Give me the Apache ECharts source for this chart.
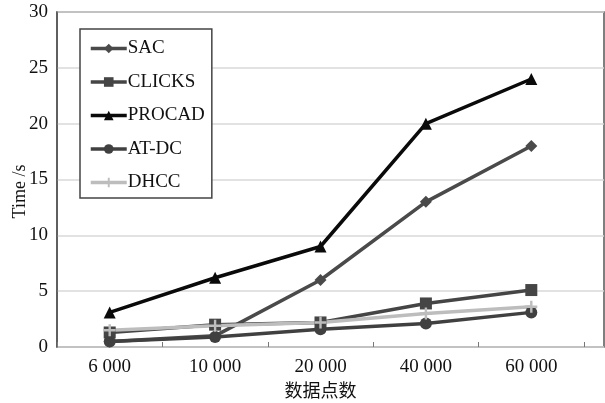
<!DOCTYPE html>
<html><head><meta charset="utf-8">
<script src="https://cdn.jsdelivr.net/npm/echarts@6/dist/echarts.min.js"></script>
<style>html,body{margin:0;padding:0;background:#fff}#c{width:605px;height:403px}</style>
</head><body><div id="c"></div>
<script>
const categories = ['6 000', '10 000', '20 000', '40 000', '60 000'];
const yTicks = [0, 5, 10, 15, 20, 25, 30];
const sac = [0.5, 1.0, 6.0, 13.0, 18.0];
const clicks = [1.3, 2.0, 2.2, 3.9, 5.1];
const procad = [3.1, 6.2, 9.0, 20.0, 24.0];
const atdc = [0.5, 0.9, 1.6, 2.1, 3.1];
const dhcc = [1.5, 1.9, 2.2, 3.0, 3.6];

const serif = 'Liberation Serif';
const chart = echarts.init(document.getElementById('c'));
function ser(name, data, color, symbol, size) {
  return {name, type: 'line', data, xAxisIndex: 1, yAxisIndex: 1,
    symbol, symbolSize: size, showAllSymbol: true,
    lineStyle: {color, width: 3.5}, itemStyle: {color}, z: 5};
}
chart.setOption({
  animation: false,
  grid: [
    {left: 57, right: 1, top: 12, bottom: 56, show: true, borderColor: '#555', borderWidth: 1.5,
      containLabel: false, outerBoundsMode: 'none'},
    {left: 57, right: 21, top: 12, bottom: 56, containLabel: false, outerBoundsMode: 'none'}
  ],
  xAxis: [
    {gridIndex: 0, type: 'value', min: 0, max: 1, show: false},
    {gridIndex: 1, type: 'category', data: categories, boundaryGap: true,
      axisLine: {show: false},
      axisTick: {show: true, inside: true, length: 5, lineStyle: {color: '#777'}},
      axisLabel: {fontFamily: serif, fontSize: 19, color: '#111', margin: 11},
      name: '数据点数', nameLocation: 'middle', nameGap: 34, nameMoveOverlap: false,
      nameTextStyle: {fontFamily: 'Noto Sans CJK SC', fontSize: 18, color: '#111'}}
  ],
  yAxis: [
    {gridIndex: 0, type: 'value', min: 0, max: 30, interval: 5,
      axisLine: {show: true, lineStyle: {color: '#555', width: 1.5}},
      axisTick: {show: false},
      splitLine: {show: true, lineStyle: {color: '#d8d8d8', width: 1.5}},
      axisLabel: {fontFamily: serif, fontSize: 19, color: '#111', margin: 9},
      name: 'Time /s', nameLocation: 'middle', nameGap: 28, nameRotate: 90, nameMoveOverlap: false,
      nameTextStyle: {fontFamily: serif, fontSize: 18, color: '#111', padding: [0, 0, 0, -24]}},
    {gridIndex: 1, type: 'value', min: 0, max: 30, interval: 5, show: false}
  ],
  legend: {
    left: 80, top: 29, orient: 'vertical', itemGap: 14.5,
    itemWidth: 36, itemHeight: 12,
    backgroundColor: '#fff', borderColor: '#444', borderWidth: 1.5,
    padding: [10, 7, 6, 9],
    lineStyle: {width: 3.5},
    textStyle: {fontFamily: serif, fontSize: 19, color: '#111', padding: [0, 0, 0, -4]},
    data: ['SAC', 'CLICKS', 'PROCAD', 'AT-DC', 'DHCC']
  },
  series: [
    ser('SAC', sac, '#4a4a4a', 'diamond', 12),
    ser('CLICKS', clicks, '#454545', 'rect', 12),
    ser('PROCAD', procad, '#0a0a0a', 'triangle', 12),
    ser('AT-DC', atdc, '#404040', 'circle', 12),
    ser('DHCC', dhcc, '#bdbdbd', 'path://M4,0h2v4h4v2h-4v4h-2v-4h-4v-2h4z', 12)
  ]
});
</script></body></html>
